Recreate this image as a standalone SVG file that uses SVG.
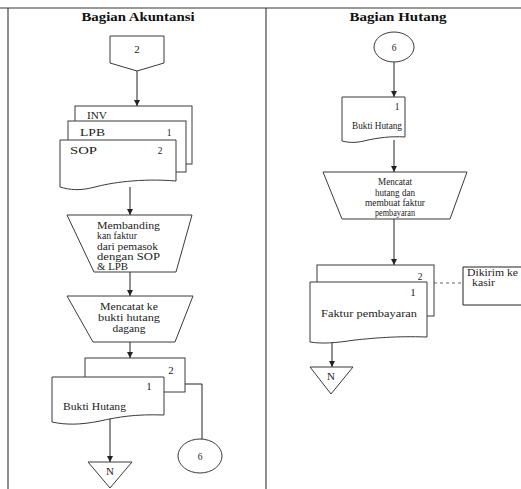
<svg xmlns="http://www.w3.org/2000/svg" width="521" height="489" viewBox="0 0 521 489">
<style>
.s{fill:#fff;stroke:#3a3a3a;stroke-width:1}
.c{fill:none;stroke:#222;stroke-width:1}
.d{fill:none;stroke:#666;stroke-width:1;stroke-dasharray:3,3}
.h{font-family:"Liberation Serif",serif;font-weight:bold;font-size:12px;fill:#111}
.t{font-family:"Liberation Serif",serif;font-size:9.5px;fill:#222}
.m{font-family:"Liberation Serif",serif;font-size:11px;fill:#222}
</style>
<defs>
<marker id="ah" viewBox="0 0 6 6" refX="6" refY="3" markerWidth="6" markerHeight="6" orient="auto" markerUnits="userSpaceOnUse">
<path d="M0,0 L6,3 L0,6 Z" fill="#222"/>
</marker>
</defs>
<rect width="521" height="489" fill="#fff"/>
<g id="frame">
<line x1="0" y1="8" x2="521" y2="8" stroke="#999" stroke-width="2"/>
<line x1="8" y1="8" x2="8" y2="489" stroke="#444" stroke-width="1.2"/>
<line x1="266" y1="8" x2="266" y2="489" stroke="#444" stroke-width="1.2"/>
<text class="h" x="138" y="21" text-anchor="middle" textLength="113" lengthAdjust="spacingAndGlyphs">Bagian Akuntansi</text>
<text class="h" x="398" y="21" text-anchor="middle" textLength="97" lengthAdjust="spacingAndGlyphs">Bagian Hutang</text>
</g>
<g id="connectors">
<line class="c" x1="137" y1="71" x2="137" y2="106" marker-end="url(#ah)"/>
<line class="c" x1="130" y1="187" x2="130" y2="215" marker-end="url(#ah)"/>
<line class="c" x1="130" y1="264" x2="130" y2="296" marker-end="url(#ah)"/>
<line class="c" x1="130" y1="342" x2="130" y2="358" marker-end="url(#ah)"/>
<line class="c" x1="110" y1="418" x2="110" y2="462" marker-end="url(#ah)"/>
<polyline class="c" points="185,384 202,384 202,439"/>
<line class="c" x1="394" y1="62" x2="394" y2="97" marker-end="url(#ah)"/>
<line class="c" x1="394" y1="140" x2="394" y2="172" marker-end="url(#ah)"/>
<line class="c" x1="394" y1="219" x2="394" y2="265" marker-end="url(#ah)"/>
<line class="d" x1="434" y1="283" x2="463" y2="283"/>
<line class="c" x1="332" y1="341" x2="332" y2="367" marker-end="url(#ah)"/>
</g>
<g id="offpage2">
<path class="s" d="M110,36 H164 V63 L137,71 L110,63 Z"/>
<text class="m" x="137" y="53" text-anchor="middle">2</text>
</g>
<g id="doc-inv">
<rect class="s" x="75" y="106" width="117" height="58"/>
<text class="m" x="87" y="119" textLength="20" lengthAdjust="spacingAndGlyphs">INV</text>
</g>
<g id="doc-lpb">
<rect class="s" x="68" y="121" width="118" height="51"/>
<text class="m" x="80" y="136" textLength="25" lengthAdjust="spacingAndGlyphs">LPB</text>
<text class="t" x="169" y="136" text-anchor="middle">1</text>
</g>
<g id="doc-sop">
<path class="s" d="M60,140 H176 V181 C140,178 110,183 95,187 C80,191 70,190 60,187 Z"/>
<text class="m" x="70" y="154" textLength="27" lengthAdjust="spacingAndGlyphs">SOP</text>
<text class="t" x="160" y="154" text-anchor="middle">2</text>
</g>
<g id="proc-membandingkan">
<path class="s" d="M67,215 H192 L176,272 H94 Z"/>
<text class="t" x="97" y="229" textLength="63" lengthAdjust="spacingAndGlyphs">Membanding</text>
<text class="t" x="97" y="239" textLength="40" lengthAdjust="spacingAndGlyphs">kan faktur</text>
<text class="t" x="97" y="250" textLength="61" lengthAdjust="spacingAndGlyphs">dari pemasok</text>
<text class="t" x="97" y="260" textLength="63" lengthAdjust="spacingAndGlyphs">dengan SOP</text>
<text class="t" x="97" y="270" textLength="31" lengthAdjust="spacingAndGlyphs">&amp; LPB</text>
</g>
<g id="proc-mencatat-ke">
<path class="s" d="M67,296 H193 L175,342 H93 Z"/>
<text class="t" x="129" y="310" text-anchor="middle" textLength="58" lengthAdjust="spacingAndGlyphs">Mencatat ke</text>
<text class="t" x="129" y="321" text-anchor="middle" textLength="62" lengthAdjust="spacingAndGlyphs">bukti hutang</text>
<text class="t" x="129" y="332" text-anchor="middle" textLength="33" lengthAdjust="spacingAndGlyphs">dagang</text>
</g>
<g id="doc-bukti-2">
<rect class="s" x="85" y="358" width="100" height="34"/>
<text class="m" x="171" y="374" text-anchor="middle">2</text>
</g>
<g id="doc-bukti-1">
<path class="s" d="M52,377 H164 V415 C135,414 118,417 100,421 C80,425 66,425 52,422 Z"/>
<text class="m" x="149" y="390" text-anchor="middle">1</text>
<text class="t" x="63" y="410" textLength="63" lengthAdjust="spacingAndGlyphs">Bukti Hutang</text>
</g>
<g id="conn6-bottom">
<ellipse class="s" cx="200" cy="456" rx="22" ry="17"/>
<text class="t" x="200" y="460" text-anchor="middle">6</text>
</g>
<g id="end-n-left">
<path class="s" d="M88,462 H132 L110,488 Z"/>
<text class="m" x="110" y="475" text-anchor="middle">N</text>
</g>
<g id="conn6-top">
<ellipse class="s" cx="394" cy="47" rx="20" ry="15"/>
<text class="t" x="394" y="51" text-anchor="middle">6</text>
</g>
<g id="doc-bukti-hutang">
<path class="s" d="M342,97 H405 V137 C390,136 378,138 368,140 C357,143 350,143 342,141 Z"/>
<text class="t" x="397" y="110" text-anchor="middle">1</text>
<text class="t" x="352" y="129" textLength="50" lengthAdjust="spacingAndGlyphs">Bukti Hutang</text>
</g>
<g id="proc-mencatat-hutang">
<path class="s" d="M323,172 H467 L450,219 H342 Z"/>
<text class="t" x="395" y="185" text-anchor="middle" textLength="34" lengthAdjust="spacingAndGlyphs">Mencatat</text>
<text class="t" x="395" y="196" text-anchor="middle" textLength="40" lengthAdjust="spacingAndGlyphs">hutang dan</text>
<text class="t" x="395" y="206" text-anchor="middle" textLength="60" lengthAdjust="spacingAndGlyphs">membuat faktur</text>
<text class="t" x="395" y="216" text-anchor="middle" textLength="40" lengthAdjust="spacingAndGlyphs">pembayaran</text>
</g>
<g id="doc-faktur-2">
<rect class="s" x="317" y="265" width="117" height="51"/>
<text class="t" x="420" y="280" text-anchor="middle">2</text>
</g>
<g id="doc-faktur-1">
<path class="s" d="M310,282 H427 V337 C395,336 375,338 355,340 C335,343 322,344 310,342 Z"/>
<text class="m" x="413" y="296" text-anchor="middle">1</text>
<text class="t" x="321" y="317" textLength="96" lengthAdjust="spacingAndGlyphs">Faktur pembayaran</text>
</g>
<g id="note-kasir">
<polyline class="c" points="521,267 463,267 463,305 521,305" stroke="#333"/>
<text class="t" x="467" y="276" textLength="51" lengthAdjust="spacingAndGlyphs">Dikirim ke</text>
<text class="t" x="472" y="286" textLength="23" lengthAdjust="spacingAndGlyphs">kasir</text>
</g>
<g id="end-n-right">
<path class="s" d="M310,367 H353 L331,394 Z"/>
<text class="m" x="331" y="380" text-anchor="middle">N</text>
</g>
</svg>
